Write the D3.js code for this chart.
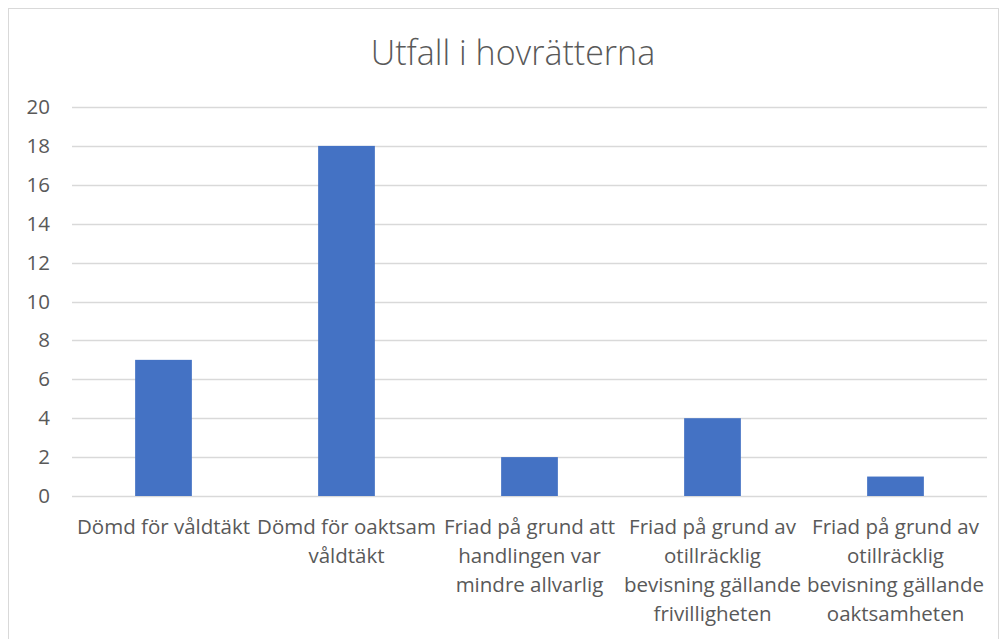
<!DOCTYPE html>
<html>
<head>
<meta charset="utf-8">
<script src="https://cdn.jsdelivr.net/npm/d3@7"></script>
<style>
  body { margin: 0; background: #fff; }
  text { font-family: "Open Sans", sans-serif; fill: #595959; }
</style>
</head>
<body>
<div id="chart"></div>
<script>
var title = "Utfall i hovrätterna"
var categories = ["Dömd för våldtäkt", "Dömd för oaktsam våldtäkt", "Friad på grund att handlingen var mindre allvarlig", "Friad på grund av otillräcklig bevisning gällande frivilligheten", "Friad på grund av otillräcklig bevisning gällande oaktsamheten"]
// line breaks as they appear under the axis
var categoryLines = [
  ["Dömd för våldtäkt"],
  ["Dömd för oaktsam", "våldtäkt"],
  ["Friad på grund att", "handlingen var", "mindre allvarlig"],
  ["Friad på grund av", "otillräcklig", "bevisning gällande", "frivilligheten"],
  ["Friad på grund av", "otillräcklig", "bevisning gällande", "oaktsamheten"]
]
var values = [7, 18, 2, 4, 1]
var yTicks = [0, 2, 4, 6, 8, 10, 12, 14, 16, 18, 20]

var W = 1002, H = 639
var margin = {top: 107, right: 15, bottom: 143, left: 72},
    width = W - margin.left - margin.right,
    height = H - margin.top - margin.bottom;

var svg = d3.select("#chart").append("svg")
    .attr("width", W)
    .attr("height", H)

// chart area border
svg.append("rect")
    .attr("x", 8.5).attr("y", 8.5)
    .attr("width", W - 12).attr("height", H)
    .attr("fill", "none")
    .attr("stroke", "#d9d9d9")

svg.append("text")
    .attr("x", 513)
    .attr("y", 65)
    .attr("text-anchor", "middle")
    .attr("font-size", "34px")
    .style("font-weight", 300)
    .text(title)

var g = svg.append("g")
    .attr("transform", "translate(" + margin.left + "," + margin.top + ")")

var x = d3.scaleBand().domain(categories).range([0, width]).paddingInner(0.69).paddingOuter(0.345)
var y = d3.scaleLinear().domain([0, 20]).range([height, 0])

// gridlines
g.selectAll(".grid").data(yTicks).enter()
  .append("line")
    .attr("x1", 0).attr("x2", width)
    .attr("y1", function(d){ return Math.round(y(d)) + 0.5 })
    .attr("y2", function(d){ return Math.round(y(d)) + 0.5 })
    .attr("stroke", "#d9d9d9")
    .attr("stroke-width", 1.3)

var yAxis = d3.axisLeft(y).tickValues(yTicks).tickSize(0).tickPadding(22)
g.append("g").call(yAxis)
  .call(function(s){ s.select(".domain").remove() })
  .selectAll("text")
    .attr("font-size", "20.5px")
    .style("fill", "#595959")
    .style("font-family", "Open Sans, sans-serif")

g.selectAll(".bar").data(values).enter()
  .append("rect")
    .attr("x", function(d, i){ return x(categories[i]) })
    .attr("y", function(d){ return y(d) })
    .attr("width", x.bandwidth())
    .attr("height", function(d){ return height - y(d) })
    .attr("fill", "#4472c4")

// category labels
var labels = g.selectAll(".lab").data(categories).enter()
  .append("text")
    .attr("text-anchor", "middle")
    .attr("font-size", "20.5px")
    .attr("transform", function(d){ return "translate(" + (x(d) + x.bandwidth() / 2) + "," + (height + 38) + ")" })

labels.each(function(d, i){
  var t = d3.select(this)
  categoryLines[i].forEach(function(line, j){
    t.append("tspan").attr("x", 0).attr("dy", j === 0 ? 0 : 29).text(line)
  })
})
</script>
</body>
</html>
